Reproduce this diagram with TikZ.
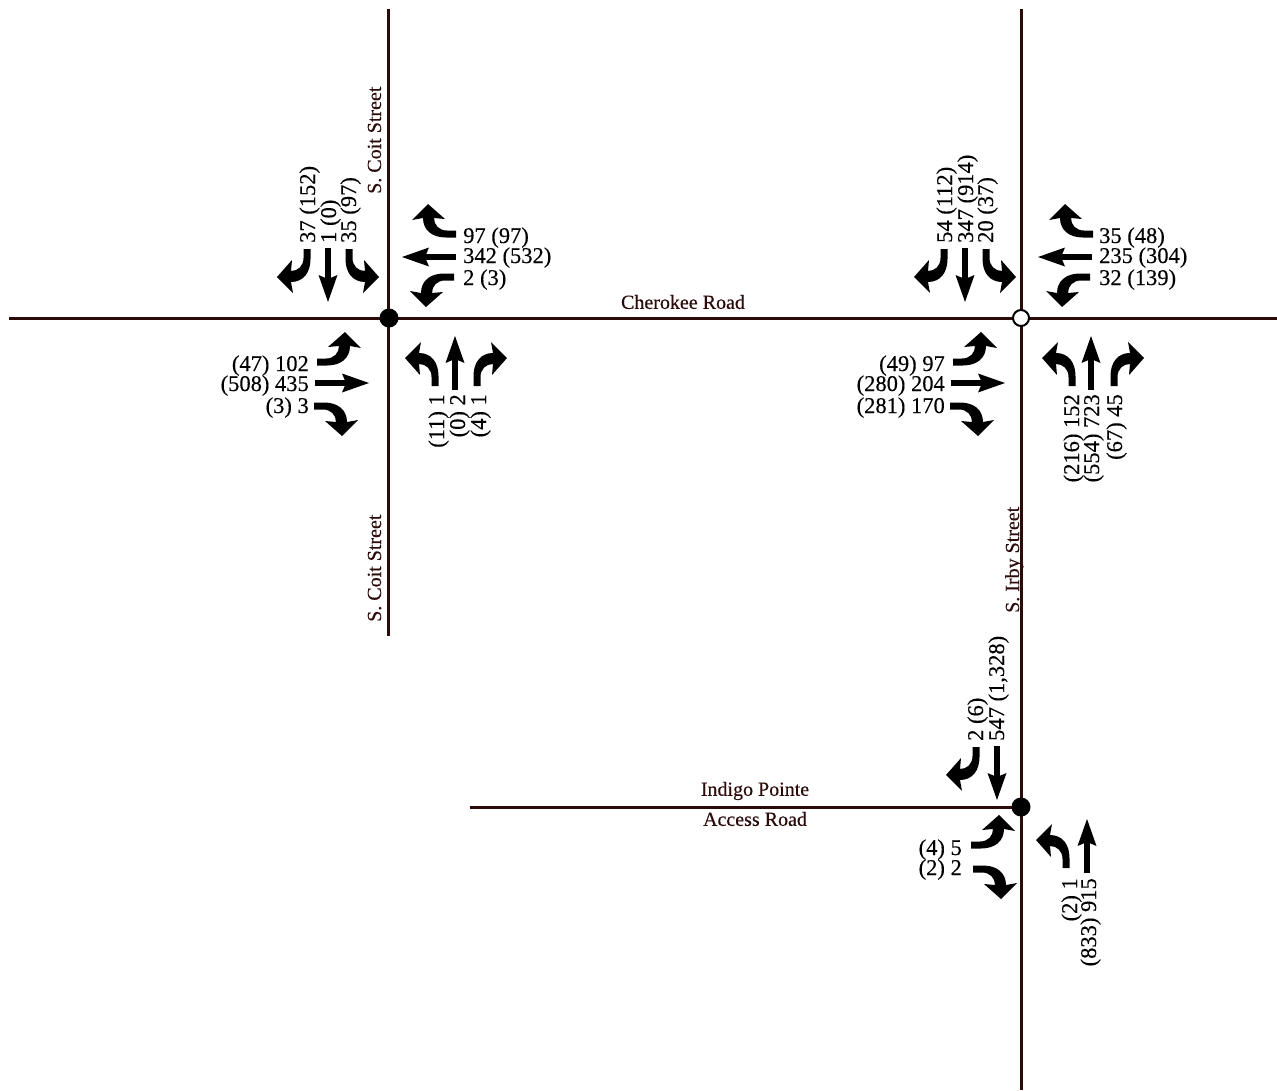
\documentclass[tikz,border=0pt]{standalone}
\usepackage{fontspec}
\setmainfont{Liberation Serif}
\definecolor{roadcolor}{HTML}{2B0A0A}
\tikzset{
  roadline/.style={draw=roadcolor, line width=3pt},
  roadname/.style={text=roadcolor, inner sep=0pt, font=\fontsize{20}{24}\selectfont\addfontfeature{FakeBold=0.3}},
  movelabel/.style={inner sep=0pt, text height=18pt, text depth=4pt, font=\fontsize{22.5}{24}\selectfont\addfontfeature{FakeBold=0.3}},
  uplabel/.style={movelabel, rotate=90},
  turnright/.pic={
    \fill (-3.5,0) -- (-3.5,-10) .. controls (-3.5,-24) and (4,-33) .. (16,-33) -- (14,-44) -- (30,-28)
      -- (15,-11) -- (16,-22) .. controls (9,-22) and (3.5,-17) .. (3.5,-9) -- (3.5,0) -- cycle;
  },
  turnleft/.pic={
    \fill (3.5,0) -- (3.5,-10) .. controls (3.5,-24) and (-4,-33) .. (-16,-33) -- (-14,-44) -- (-30,-28)
      -- (-15,-11) -- (-16,-22) .. controls (-9,-22) and (-3.5,-17) .. (-3.5,-9) -- (-3.5,0) -- cycle;
  },
  thruarrow/.pic={
    \draw[line width=6.5pt] (0,0) -- (0,-33);
    \fill (0,-54) -- (-9.5,-27) -- (0,-31) -- (9.5,-27) -- cycle;
  }
}
\begin{document}
\begin{tikzpicture}[x=1pt, y=-1pt]
\useasboundingbox (0,0) rectangle (1277,1090);

% road ends
\coordinate (CherokeeW) at (9,318);
\coordinate (CherokeeE) at (1277,318);
\coordinate (CoitN) at (388,9);
\coordinate (CoitS) at (388,636);
\coordinate (IrbyN) at (1021,9);
\coordinate (IrbyS) at (1021,1090);
\coordinate (IndigoW) at (470,807);
\coordinate (IndigoE) at (1021,807);
\draw[roadline] (CherokeeW) -- (CherokeeE);
\draw[roadline] (CoitN) -- (CoitS);
\draw[roadline] (IrbyN) -- (IrbyS);
\draw[roadline] (IndigoW) -- (IndigoE);

% signals
\node[circle, fill=black, inner sep=0pt, minimum size=19pt] (CoitSignal) at (389,318) {};
\node[circle, fill=white, draw=black, line width=2pt, inner sep=0pt, minimum size=16pt] (IrbySignal) at (1021,318) {};
\node[circle, fill=black, inner sep=0pt, minimum size=19pt] (IndigoSignal) at (1021,807) {};

% road names
\node[roadname] (CherokeeName) at (683,302) {Cherokee Road};
\node[roadname] (IndigoName) at (755,791) {Indigo Pointe};
\node[roadname] (AccessName) at (755,819) {Access Road};
\node[roadname, rotate=90, anchor=base west] (CoitNameN) at (381,194) {S. Coit Street};
\node[roadname, rotate=90, anchor=base west] (CoitNameS) at (381,622) {S. Coit Street};
\node[roadname, rotate=90, anchor=base west] (IrbyName) at (1019,613) {S. Irby Street};

% Coit at Cherokee
\pic[rotate=180] at (307,249) {turnright};
\pic[rotate=180] at (328,248) {thruarrow};
\pic[rotate=180] at (349,249) {turnleft};
\node[uplabel, anchor=west] (CoitSbL) at (308,243) {37 (152)};
\node[uplabel, anchor=west] (CoitSbT) at (329,243) {1 (0)};
\node[uplabel, anchor=west] (CoitSbR) at (349,243) {35 (97)};

\pic[rotate=90] at (456,234) {turnright};
\pic[rotate=90] at (456,257) {thruarrow};
\pic[rotate=90] at (454,277) {turnleft};
\node[movelabel, anchor=west] (CoitWbR) at (463,236) {97 (97)};
\node[movelabel, anchor=west] (CoitWbT) at (463,256) {342 (532)};
\node[movelabel, anchor=west] (CoitWbL) at (463,278) {2 (3)};

\pic[rotate=-90] at (317,362) {turnleft};
\pic[rotate=-90] at (315,383) {thruarrow};
\pic[rotate=-90] at (314,406) {turnright};
\node[movelabel, anchor=east] (CoitEbL) at (309,364) {(47) 102};
\node[movelabel, anchor=east] (CoitEbT) at (309,384) {(508) 435};
\node[movelabel, anchor=east] (CoitEbR) at (309,406) {(3) 3};

\pic at (435,386) {turnleft};
\pic at (455,390) {thruarrow};
\pic at (477,386) {turnright};
\node[uplabel, anchor=east] (CoitNbL) at (437,394) {(11) 1};
\node[uplabel, anchor=east] (CoitNbT) at (458,394) {(0) 2};
\node[uplabel, anchor=east] (CoitNbR) at (479,394) {(4) 1};

% Irby at Cherokee
\pic[rotate=180] at (944,249) {turnright};
\pic[rotate=180] at (965,248) {thruarrow};
\pic[rotate=180] at (986,249) {turnleft};
\node[uplabel, anchor=west] (IrbySbL) at (945,243) {54 (112)};
\node[uplabel, anchor=west] (IrbySbT) at (966,243) {347 (914)};
\node[uplabel, anchor=west] (IrbySbR) at (986,243) {20 (37)};

\pic[rotate=90] at (1093,234) {turnright};
\pic[rotate=90] at (1092,257) {thruarrow};
\pic[rotate=90] at (1090,277) {turnleft};
\node[movelabel, anchor=west] (IrbyWbR) at (1099,236) {35 (48)};
\node[movelabel, anchor=west] (IrbyWbT) at (1099,256) {235 (304)};
\node[movelabel, anchor=west] (IrbyWbL) at (1099,278) {32 (139)};

\pic[rotate=-90] at (953,362) {turnleft};
\pic[rotate=-90] at (951,383) {thruarrow};
\pic[rotate=-90] at (950,406) {turnright};
\node[movelabel, anchor=east] (IrbyEbL) at (945,364) {(49) 97};
\node[movelabel, anchor=east] (IrbyEbT) at (945,384) {(280) 204};
\node[movelabel, anchor=east] (IrbyEbR) at (945,406) {(281) 170};

\pic at (1072,386) {turnleft};
\pic at (1091,390) {thruarrow};
\pic at (1114,386) {turnright};
\node[uplabel, anchor=east] (IrbyNbL) at (1072,394) {(216) 152};
\node[uplabel, anchor=east] (IrbyNbT) at (1092,394) {(554) 723};
\node[uplabel, anchor=east] (IrbyNbR) at (1115,394) {(67) 45};

% Irby at Indigo Pointe
\pic[rotate=180] at (976,747) {turnright};
\pic[rotate=180] at (997,746) {thruarrow};
\node[uplabel, anchor=west] (IndigoSbL) at (976,741) {2 (6)};
\node[uplabel, anchor=west] (IndigoSbT) at (997,741) {547 (1,328)};

\pic[rotate=-90] at (971,845) {turnleft};
\pic[rotate=-90] at (973,869) {turnright};
\node[movelabel, anchor=east] (IndigoEbL) at (962,848) {(4) 5};
\node[movelabel, anchor=east] (IndigoEbR) at (962,868) {(2) 2};

\pic at (1066,868) {turnleft};
\pic at (1087,873) {thruarrow};
\node[uplabel, anchor=east] (IndigoNbL) at (1070,878) {(2) 1};
\node[uplabel, anchor=east] (IndigoNbT) at (1089,878) {(833) 915};
\end{tikzpicture}
\end{document}
